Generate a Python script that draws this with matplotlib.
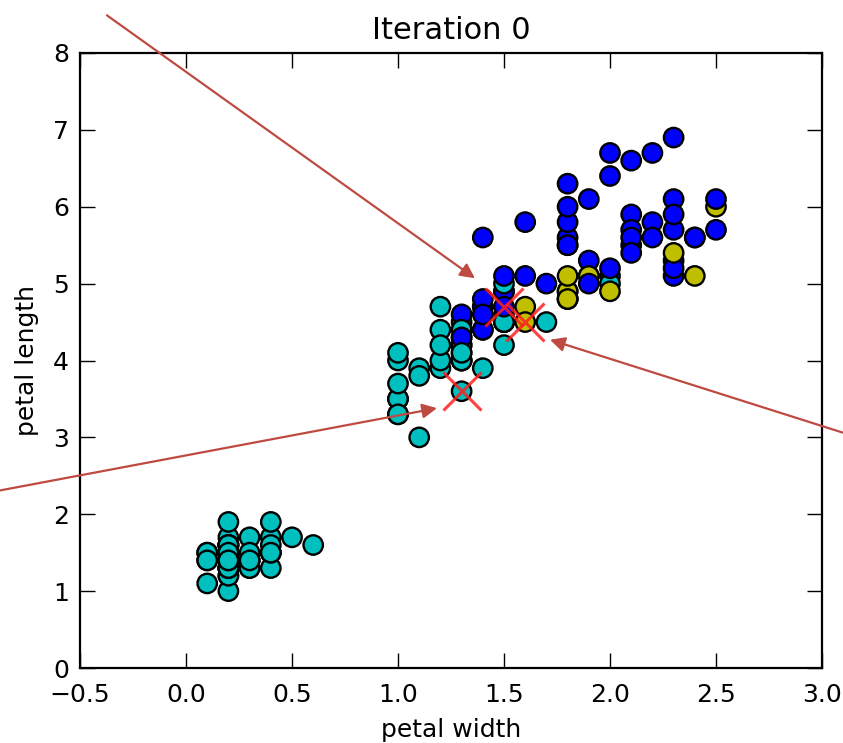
import matplotlib
matplotlib.use("Agg")
import matplotlib.pyplot as plt

# Iris petal measurements (petal width, petal length) in dataset order
petal_width = [
    0.2, 0.2, 0.2, 0.2, 0.2, 0.4, 0.3, 0.2, 0.2, 0.1,
    0.2, 0.2, 0.1, 0.1, 0.2, 0.4, 0.4, 0.3, 0.3, 0.3,
    0.2, 0.4, 0.2, 0.5, 0.2, 0.2, 0.4, 0.2, 0.2, 0.2,
    0.2, 0.4, 0.1, 0.2, 0.2, 0.2, 0.2, 0.1, 0.2, 0.2,
    0.3, 0.3, 0.2, 0.6, 0.4, 0.3, 0.2, 0.2, 0.2, 0.2,
    1.4, 1.5, 1.5, 1.3, 1.5, 1.3, 1.6, 1.0, 1.3, 1.4,
    1.0, 1.5, 1.0, 1.4, 1.3, 1.4, 1.5, 1.0, 1.5, 1.1,
    1.8, 1.3, 1.5, 1.2, 1.3, 1.4, 1.4, 1.7, 1.5, 1.0,
    1.1, 1.0, 1.2, 1.6, 1.5, 1.6, 1.5, 1.3, 1.3, 1.3,
    1.2, 1.4, 1.2, 1.0, 1.3, 1.2, 1.3, 1.3, 1.1, 1.3,
    2.5, 1.9, 2.1, 1.8, 2.2, 2.1, 1.7, 1.8, 1.8, 2.5,
    2.0, 1.9, 2.1, 2.0, 2.4, 2.3, 1.8, 2.2, 2.3, 1.5,
    2.3, 2.0, 2.0, 1.8, 2.1, 1.8, 1.8, 1.8, 2.1, 1.6,
    1.9, 2.0, 2.2, 1.5, 1.4, 2.3, 2.4, 1.8, 1.8, 2.1,
    2.4, 2.3, 1.9, 2.3, 2.5, 2.3, 1.9, 2.0, 2.3, 1.8,
]
petal_length = [
    1.4, 1.4, 1.3, 1.5, 1.4, 1.7, 1.4, 1.5, 1.4, 1.5,
    1.5, 1.6, 1.4, 1.1, 1.2, 1.5, 1.3, 1.4, 1.7, 1.5,
    1.7, 1.5, 1.0, 1.7, 1.9, 1.6, 1.6, 1.5, 1.4, 1.6,
    1.6, 1.5, 1.5, 1.4, 1.5, 1.2, 1.3, 1.4, 1.3, 1.5,
    1.3, 1.3, 1.3, 1.6, 1.9, 1.4, 1.6, 1.4, 1.5, 1.4,
    4.7, 4.5, 4.9, 4.0, 4.6, 4.5, 4.7, 3.3, 4.6, 3.9,
    3.5, 4.2, 4.0, 4.7, 3.6, 4.4, 4.5, 4.1, 4.5, 3.9,
    4.8, 4.0, 4.9, 4.7, 4.3, 4.4, 4.8, 5.0, 4.5, 3.5,
    3.8, 3.7, 3.9, 5.1, 4.5, 4.5, 4.7, 4.4, 4.1, 4.0,
    4.4, 4.6, 4.0, 3.3, 4.2, 4.2, 4.2, 4.3, 3.0, 4.1,
    6.0, 5.1, 5.9, 5.6, 5.8, 6.6, 4.5, 6.3, 5.8, 6.1,
    5.1, 5.3, 5.5, 5.0, 5.1, 5.3, 5.5, 6.7, 6.9, 5.0,
    5.7, 4.9, 6.7, 4.9, 5.7, 6.0, 4.8, 4.9, 5.6, 5.8,
    6.1, 6.4, 5.6, 5.1, 5.6, 6.1, 5.6, 5.5, 4.8, 5.4,
    5.6, 5.1, 5.1, 5.9, 5.7, 5.2, 5.0, 5.2, 5.4, 5.1,
]
# Cluster colour of each point at iteration 0
cluster_color = (
    ['c'] * 50 +
    ['b', 'b', 'b', 'c', 'b', 'c', 'y', 'c', 'b', 'c',
     'c', 'c', 'c', 'b', 'c', 'b', 'c', 'c', 'c', 'c',
     'y', 'c', 'b', 'c', 'b', 'b', 'b', 'b', 'c', 'c',
     'c', 'c', 'c', 'b', 'c', 'y', 'b', 'c', 'c', 'c',
     'c', 'b', 'c', 'c', 'c', 'c', 'c', 'b', 'c', 'c'] +
    ['y', 'y', 'b', 'b', 'b', 'b', 'c', 'b', 'b', 'b',
     'b', 'b', 'b', 'c', 'y', 'b', 'b', 'b', 'b', 'c',
     'b', 'y', 'b', 'y', 'b', 'b', 'y', 'y', 'b', 'b',
     'b', 'b', 'b', 'b', 'b', 'b', 'b', 'b', 'y', 'b',
     'b', 'b', 'y', 'b', 'b', 'b', 'b', 'b', 'y', 'y']
)
# Initial centroids (petal width, petal length)
centroid_width = [1.5, 1.6, 1.3]
centroid_length = [4.7, 4.5, 3.6]

# Annotation arrows: (tail, head) in data coordinates
arrow_tails = [(-0.373, 8.49), (3.10, 3.06), (-0.877, 2.31)]
arrow_heads = [(1.363, 5.07), (1.717, 4.27), (1.184, 3.38)]

color_map = {'c': (0.0, 0.75, 0.75), 'b': (0.0, 0.0, 1.0), 'y': (0.75, 0.75, 0.0)}

plt.rcParams['font.family'] = ['DejaVu Sans']
plt.rcParams['font.size'] = 18

fig = plt.figure(figsize=(8.43, 7.43), dpi=100)
ax = fig.add_axes([80 / 843, 75 / 743, 742 / 843, 615 / 743])

ax.scatter(petal_width, petal_length, c=[color_map[k] for k in cluster_color],
           s=195, edgecolors='black', linewidths=1.7, zorder=2)
ax.plot(centroid_width, centroid_length, linestyle='none', marker='x',
        markersize=28, markeredgewidth=2.2, color=(1.0, 0.12, 0.12), alpha=0.85, zorder=3)

for tail, head in zip(arrow_tails, arrow_heads):
    ax.annotate('', xy=head, xytext=tail, xycoords='data', textcoords='data',
                annotation_clip=False,
                arrowprops=dict(arrowstyle='-|>', color=(0.75, 0.29, 0.26),
                                lw=1.6, mutation_scale=22, shrinkA=0, shrinkB=0),
                zorder=4)

ax.set_xlim(-0.5, 3.0)
ax.set_ylim(0, 8)
ax.set_xticks([-0.5, 0.0, 0.5, 1.0, 1.5, 2.0, 2.5, 3.0])
ax.set_yticks(range(0, 9))
ax.tick_params(direction='in', length=11, width=1.0, top=True, right=True)
ax.tick_params(axis='x', pad=11)
ax.tick_params(axis='y', pad=8)
for sp in ax.spines.values():
    sp.set_linewidth(1.6)

ax.set_xlabel('petal width', labelpad=8)
ax.set_ylabel('petal length', labelpad=10)
ax.set_title('Iteration 0', fontsize=22, pad=10)

fig.savefig('out.png', dpi=100)
